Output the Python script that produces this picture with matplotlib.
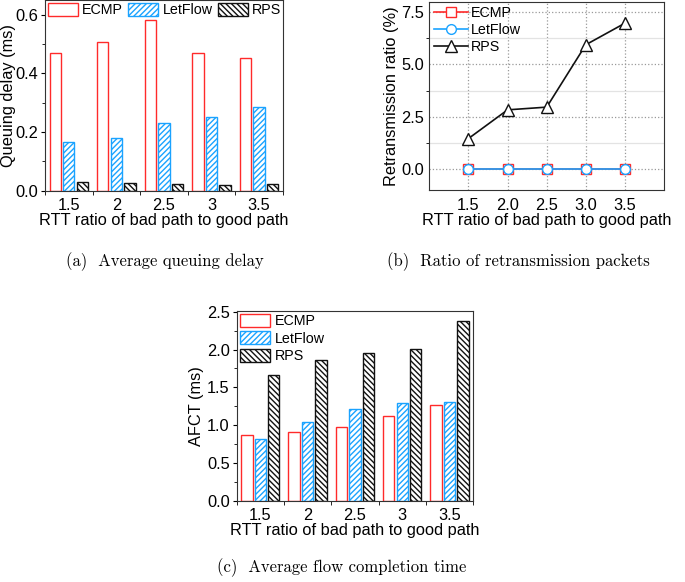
import numpy as np
import matplotlib.pyplot as plt
from matplotlib.ticker import MultipleLocator

# data
ratios = ['1.5', '2', '2.5', '3', '3.5']
ratios_b = [1.5, 2.0, 2.5, 3.0, 3.5]

qdelay_ecmp = [0.469, 0.507, 0.581, 0.469, 0.452]
qdelay_letflow = [0.167, 0.179, 0.230, 0.250, 0.286]
qdelay_rps = [0.029, 0.027, 0.022, 0.021, 0.022]

retx_ecmp = [0, 0, 0, 0, 0]
retx_letflow = [0, 0, 0, 0, 0]
retx_rps = [1.46, 2.83, 2.96, 5.94, 6.97]

afct_ecmp = [0.869, 0.913, 0.979, 1.124, 1.261]
afct_letflow = [0.811, 1.036, 1.208, 1.287, 1.310]
afct_rps = [1.658, 1.856, 1.949, 2.002, 2.377]

RED = '#ff2a2a'
BLUE = '#1aa3ff'
BLACK = '#111111'

plt.rcParams['font.family'] = ['Liberation Sans', 'DejaVu Sans']
plt.rcParams['hatch.linewidth'] = 1.0
FS = 11.8     # axis labels
TFS = 11.8    # tick labels
LFS = 10.3    # legends

fig = plt.figure(figsize=(6.85, 5.82), dpi=100)


def bar_panel(ax, ecmp, letflow, rps):
    x = np.arange(len(ratios))
    w = 0.24
    off = 0.285
    ax.bar(x - off, ecmp, w, facecolor='white', edgecolor=RED, linewidth=1.0, label='ECMP')
    ax.bar(x, letflow, w, facecolor='white', edgecolor=BLUE, hatch='//////', linewidth=1.0, label='LetFlow')
    ax.bar(x + off, rps, w, facecolor='white', edgecolor=BLACK, hatch='\\\\\\\\\\\\', linewidth=1.0, label='RPS')
    ax.set_xlim(-0.5, len(ratios) - 0.5)
    ax.set_xticks(x)
    ax.set_xticklabels(ratios)
    ax.set_xticks(np.arange(len(ratios) + 1) - 0.5, minor=True)
    ax.tick_params(axis='x', which='major', length=0, labelsize=TFS, pad=5)
    ax.tick_params(axis='x', which='minor', length=3, direction='out')
    ax.tick_params(axis='y', which='major', length=3, direction='out', labelsize=TFS, pad=2)
    ax.tick_params(axis='y', which='minor', length=2, direction='out')
    ax.set_xlabel('RTT ratio of bad path to good path', fontsize=FS, labelpad=0)
    for s in ax.spines.values():
        s.set_color('#333333')


# (a) queuing delay
ax1 = fig.add_axes([0.0657, 0.6723, 0.347, 0.3277])
bar_panel(ax1, qdelay_ecmp, qdelay_letflow, qdelay_rps)
ax1.set_ylim(0, 0.65)
ax1.yaxis.set_major_locator(MultipleLocator(0.2))
ax1.yaxis.set_minor_locator(MultipleLocator(0.1))
ax1.yaxis.set_major_formatter(plt.FormatStrFormatter('%.1f'))
ax1.set_ylabel('Queuing delay (ms)', fontsize=FS)
ax1.yaxis.set_label_coords(-0.12, 0.5)
ax1.legend(loc='upper left', ncol=3, frameon=False, fontsize=LFS, handlelength=2.1,
           handleheight=1.0, columnspacing=0.35, handletextpad=0.3,
           borderpad=0.2, borderaxespad=0.0, bbox_to_anchor=(0.0, 1.0))

# (b) retransmission ratio
ax2 = fig.add_axes([0.6268, 0.6735, 0.3426, 0.3237])
ax2.plot(ratios_b, retx_ecmp, color=RED, marker='s', markersize=7, markerfacecolor='white',
         markeredgecolor=RED, linewidth=1.2, label='ECMP')
ax2.plot(ratios_b, retx_letflow, color=BLUE, marker='o', markersize=7, markerfacecolor='white',
         markeredgecolor=BLUE, linewidth=1.2, label='LetFlow')
ax2.plot(ratios_b, retx_rps, color=BLACK, marker='^', markersize=8.5, markerfacecolor='white',
         markeredgecolor=BLACK, linewidth=1.2, label='RPS')
ax2.set_xlim(1.0, 4.0)
ax2.set_ylim(-1.0, 8.0)
ax2.set_xticks(ratios_b)
ax2.xaxis.set_major_formatter(plt.FormatStrFormatter('%.1f'))
ax2.yaxis.set_major_locator(MultipleLocator(2.5))
ax2.yaxis.set_minor_locator(MultipleLocator(1.25))
ax2.yaxis.set_major_formatter(plt.FormatStrFormatter('%.1f'))
ax2.grid(True, which='major', linestyle=':', color='#999999', linewidth=0.9)
ax2.grid(True, which='minor', axis='y', linestyle='-', color='#e3e3e3', linewidth=0.9)
ax2.set_axisbelow(True)
ax2.tick_params(axis='both', which='major', length=0, labelsize=TFS)
ax2.tick_params(axis='y', which='minor', length=2)
ax2.tick_params(axis='x', pad=6)
ax2.set_xlabel('RTT ratio of bad path to good path', fontsize=FS, labelpad=0)
ax2.set_ylabel('Retransmission ratio (%)', fontsize=FS, labelpad=2)
for s in ax2.spines.values():
    s.set_color('#333333')
ax2.legend(loc='upper left', frameon=False, fontsize=LFS, handlelength=2.4,
           handletextpad=0.2, labelspacing=0.2, borderpad=0.3, borderaxespad=0.0,
           bbox_to_anchor=(0.0, 1.0))

# (c) AFCT
ax3 = fig.add_axes([0.3455, 0.1397, 0.3454, 0.326])
bar_panel(ax3, afct_ecmp, afct_letflow, afct_rps)
ax3.set_ylim(0, 2.51)
ax3.yaxis.set_major_locator(MultipleLocator(0.5))
ax3.yaxis.set_minor_locator(MultipleLocator(0.25))
ax3.yaxis.set_major_formatter(plt.FormatStrFormatter('%.1f'))
ax3.set_ylabel('AFCT (ms)', fontsize=FS, labelpad=2)
ax3.legend(loc='upper left', frameon=False, fontsize=LFS, handlelength=2.1,
           handleheight=1.0, handletextpad=0.35, labelspacing=0.22,
           borderpad=0.1, borderaxespad=0.1)

# captions
cap = dict(fontsize=12, family=['cmr10', 'DejaVu Serif'], ha='center', va='center')
fig.text(165 / 685, 1 - 262 / 582, '(a)  Average queuing delay', **cap)
fig.text(518 / 685, 1 - 262 / 582, '(b)  Ratio of retransmission packets', **cap)
fig.text(342 / 685, 1 - 568 / 582, '(c)  Average flow completion time', **cap)

fig.savefig('out.png', dpi=100)
